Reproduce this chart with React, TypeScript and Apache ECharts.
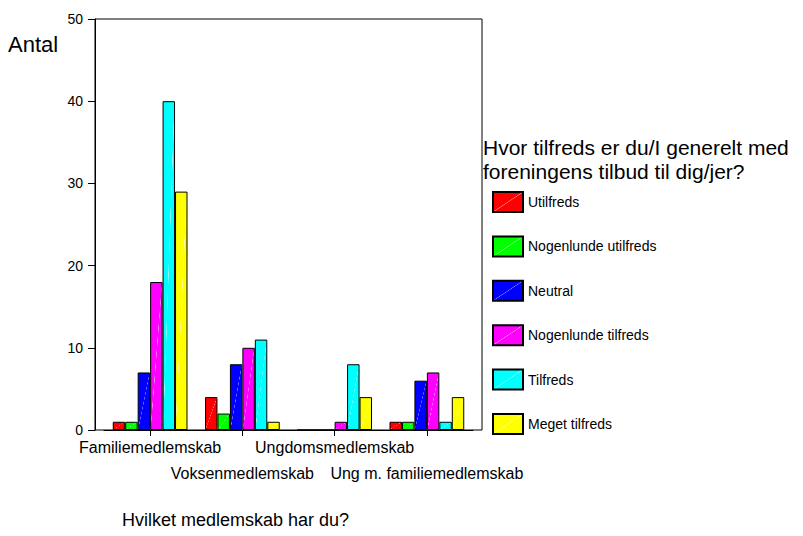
import React, { useEffect, useRef } from "react";
import * as echarts from "echarts";

const categories = ["Familiemedlemskab", "Voksenmedlemskab", "Ungdomsmedlemskab", "Ung m. familiemedlemskab"];
const seriesNames = ["Utilfreds", "Nogenlunde utilfreds", "Neutral", "Nogenlunde tilfreds", "Tilfreds", "Meget tilfreds"];
const utilfreds = [1, 4, 0, 1];
const nogenlundeUtilfreds = [1, 2, 0, 1];
const neutral = [7, 8, 0, 6];
const nogenlundeTilfreds = [18, 10, 1, 7];
const tilfreds = [40, 11, 8, 1];
const megetTilfreds = [29, 1, 4, 4];
const seriesValues = [utilfreds, nogenlundeUtilfreds, neutral, nogenlundeTilfreds, tilfreds, megetTilfreds];
const colors = ["#FF0000", "#00FF00", "#0000FF", "#FF00FF", "#00FFFF", "#FFFF00"];
const lightColors = ["#FF9090", "#90FF90", "#8080FF", "#FF90FF", "#A0FFFF", "#FFFFA0"];
const yTitle = "Antal";
const xTitle = "Hvilket medlemskab har du?";
const legendTitle = "Hvor tilfreds er du/I generelt med\nforeningens tilbud til dig/jer?";

const FONT = "'Liberation Sans', Arial, Helvetica, sans-serif";

export default function App() {
  const ref = useRef<HTMLDivElement>(null);
  useEffect(() => {
    if (!ref.current) return;
    const chart = echarts.init(ref.current, null, { renderer: "svg" });
    const fill = (i: number) =>
      new echarts.graphic.LinearGradient(0, 0, 1, 1, [
        { offset: 0, color: colors[i] },
        { offset: 0.482, color: colors[i] },
        { offset: 0.5, color: lightColors[i] },
        { offset: 0.518, color: colors[i] },
        { offset: 1, color: colors[i] },
      ]);
    chart.setOption({
      animation: false,
      backgroundColor: "#fff",
      textStyle: { fontFamily: FONT, color: "#000" },
      grid: [
        { left: 95, width: 387, top: 19, height: 411, show: true, borderColor: "#000", borderWidth: 1, backgroundColor: "transparent" },
        { left: 104, width: 369, top: 19, height: 411 },
      ],
      xAxis: [
        { type: "value", gridIndex: 0, show: false, min: 0, max: 1 },
        {
          type: "category",
          gridIndex: 1,
          data: categories,
          axisLine: { show: true, lineStyle: { color: "#000", width: 1 } },
          axisTick: { show: true, alignWithLabel: true, length: 6, lineStyle: { color: "#000" } },
          axisLabel: {
            interval: 0,
            margin: 4,
            fontSize: 16,
            lineHeight: 26,
            color: "#000",
            fontFamily: FONT,
            formatter: (v: string, i: number) => (i % 2 === 1 ? "\n" + v : v),
          },
        },
      ],
      yAxis: [
        {
          type: "value",
          gridIndex: 0,
          min: 0,
          max: 50,
          interval: 10,
          axisLine: { show: true, lineStyle: { color: "#000", width: 1 } },
          axisTick: { show: true, length: 7, lineStyle: { color: "#000" } },
          splitLine: { show: false },
          axisLabel: { margin: 12, fontSize: 14, color: "#000", fontFamily: FONT },
        },
        { type: "value", gridIndex: 1, min: 0, max: 50, interval: 10, show: false },
      ],
      legend: {
        orient: "vertical",
        left: 492,
        top: 191,
        padding: 0,
        itemWidth: 30,
        itemHeight: 20,
        itemGap: 22.4,
        icon: "rect",
        textStyle: { fontSize: 14, color: "#000", fontFamily: FONT },
        data: seriesNames,
      },
      graphic: [
        { type: "text", left: 8, top: 33, style: { text: yTitle, fontSize: 22, fill: "#000", fontFamily: FONT } },
        {
          type: "text",
          left: 483,
          top: 135,
          style: { text: legendTitle, fontSize: 21, lineHeight: 24, fill: "#000", fontFamily: FONT },
        },
        { type: "text", left: 122, top: 511, style: { text: xTitle, fontSize: 18, fill: "#000", fontFamily: FONT } },
      ],
      series: seriesNames.map((name, i) => ({
        name,
        type: "bar",
        xAxisIndex: 1,
        yAxisIndex: 1,
        data: seriesValues[i],
        barGap: "0%",
        barCategoryGap: "19%",
        itemStyle: { color: fill(i), borderColor: "#000", borderWidth: 1 },
        emphasis: { disabled: true },
      })),
    });
    return () => chart.dispose();
  }, []);
  return <div ref={ref} style={{ position: "absolute", left: 0, top: 0, width: 803, height: 536 }} />;
}
